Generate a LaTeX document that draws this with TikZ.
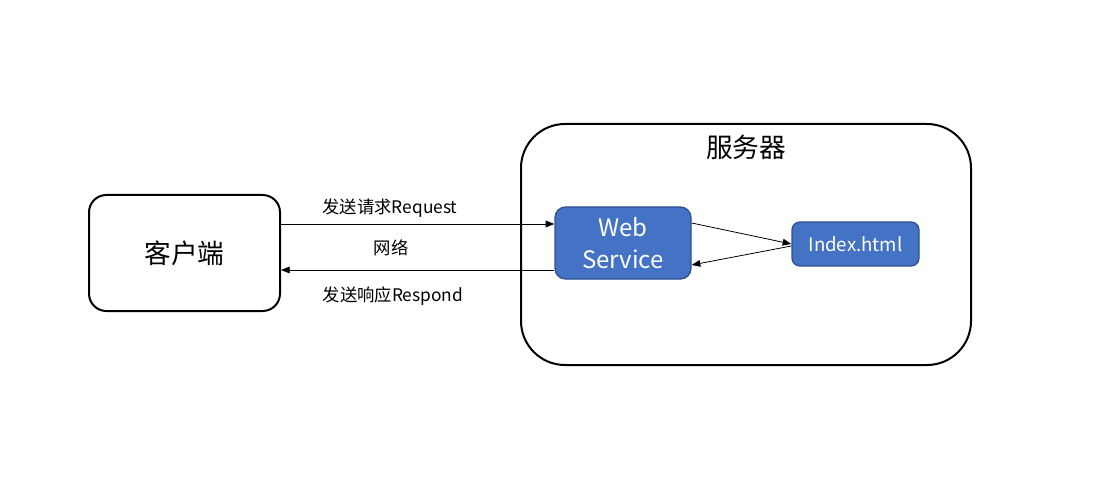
\documentclass[tikz,border=0pt]{standalone}
\usepackage{fontspec}
\setmainfont{Noto Sans CJK SC}
\usetikzlibrary{arrows.meta}
\definecolor{boxblue}{HTML}{4472C4}
\definecolor{boxedge}{HTML}{2F528F}
\begin{document}
\begin{tikzpicture}[x=0.75pt,y=-0.75pt,
  frame/.style={draw=black,line width=1.5pt,rounded corners=#1,inner sep=0pt},
  bluebox/.style={draw=boxedge,line width=1pt,fill=boxblue,text=white,inner sep=0pt,align=center},
  lbl/.style={font=\fontsize{13pt}{15pt}\selectfont},
  arr/.style={-{Triangle[length=6.5pt,width=5pt]},line width=0.6pt}]
\useasboundingbox (0,0) rectangle (1105,488);
\node[frame=13pt,minimum width=143.25pt,minimum height=87pt,font=\fontsize{20pt}{22pt}\selectfont] (client) at (184.5,253) {客户端};
\node[frame=33pt,minimum width=337.5pt,minimum height=180.75pt] (server) at (746,244.5) {};
\node[font=\fontsize{20pt}{22pt}\selectfont] (srv) at (746,147) {服务器};
\node[bluebox,rounded corners=8pt,minimum width=102pt,minimum height=54pt,font=\fontsize{18pt}{24pt}\selectfont] (ws) at (623,243) {Web\\Service};
\node[bluebox,rounded corners=6pt,minimum width=95.25pt,minimum height=33pt,font=\fontsize{14pt}{16pt}\selectfont] (idx) at (855.5,244) {Index.html};
\draw[arr] ([yshift=21.75pt]client.east) -- ([yshift=21.75pt]client.east -| ws.west);
\draw[arr] ([yshift=-20.25pt]ws.west) -- ([yshift=-20.25pt]ws.west -| client.east);
\draw[arr] ([yshift=15pt]ws.east) -- (idx.west);
\draw[arr] ([yshift=-1.5pt]idx.west) -- ([yshift=-16.5pt]ws.east);
\node[lbl] (l1) at (390,208) {发送请求Request};
\node[lbl] (l2) at (391,248) {网络};
\node[lbl] (l3) at (393,296) {发送响应Respond};
\end{tikzpicture}
\end{document}
